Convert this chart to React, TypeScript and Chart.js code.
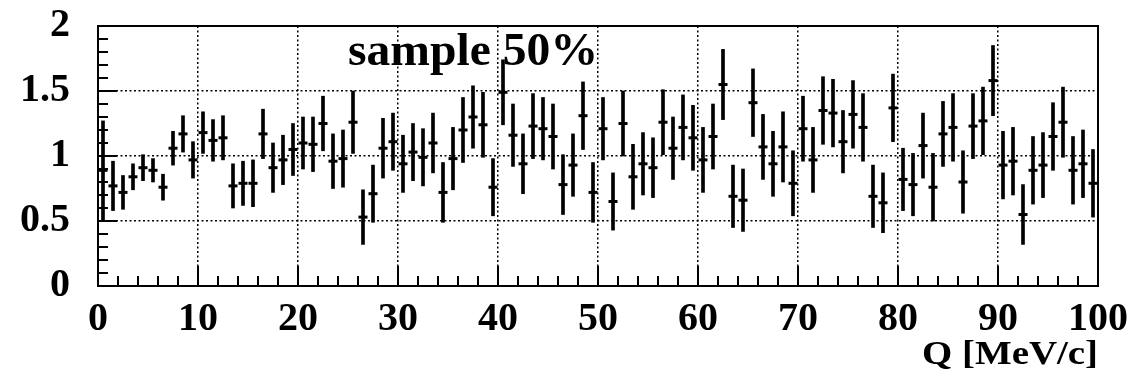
import React, { useEffect, useRef } from "react";
import { Chart, registerables } from "chart.js";

Chart.register(...registerables);

// Q bins: 100 bins of 1 MeV/c starting at 0
const qBinStart = 0;
const qBinWidth = 1;

// Ratio values per bin
const ratioValues = [
  0.89, 0.77, 0.72, 0.84, 0.91, 0.89, 0.76, 1.06, 1.17, 0.97,
  1.18, 1.12, 1.14, 0.77, 0.79, 0.79, 1.17, 0.91, 0.97, 1.05,
  1.10, 1.09, 1.25, 0.96, 0.98, 1.26, 0.53, 0.71, 1.06, 1.11,
  0.94, 1.03, 0.99, 1.10, 0.72, 0.98, 1.20, 1.30, 1.24, 0.76,
  1.49, 1.16, 0.94, 1.23, 1.21, 1.15, 0.78, 0.93, 1.31, 0.72,
  1.21, 0.65, 1.25, 0.84, 0.94, 0.91, 1.26, 1.06, 1.22, 1.14,
  0.97, 1.15, 1.55, 0.69, 0.66, 1.41, 1.07, 0.94, 1.07, 0.79,
  1.21, 0.97, 1.35, 1.33, 1.11, 1.32, 1.22, 0.69, 0.64, 1.37,
  0.82, 0.78, 1.08, 0.76, 1.17, 1.22, 0.80, 1.23, 1.27, 1.58,
  0.93, 0.96, 0.55, 0.89, 0.93, 1.15, 1.26, 0.89, 0.94, 0.79,
];

// Symmetric errors per bin
const ratioErrors = [
  0.38, 0.19, 0.13, 0.10, 0.10, 0.09, 0.10, 0.13, 0.14, 0.14,
  0.16, 0.16, 0.17, 0.17, 0.17, 0.18, 0.19, 0.19, 0.19, 0.20,
  0.20, 0.21, 0.21, 0.21, 0.22, 0.24, 0.21, 0.22, 0.23, 0.22,
  0.22, 0.22, 0.22, 0.23, 0.23, 0.24, 0.25, 0.24, 0.25, 0.22,
  0.25, 0.24, 0.23, 0.25, 0.24, 0.25, 0.23, 0.24, 0.26, 0.23,
  0.24, 0.22, 0.25, 0.25, 0.24, 0.23, 0.25, 0.24, 0.25, 0.25,
  0.25, 0.25, 0.27, 0.24, 0.24, 0.26, 0.25, 0.25, 0.27, 0.25,
  0.25, 0.25, 0.26, 0.26, 0.24, 0.26, 0.26, 0.24, 0.23, 0.26,
  0.24, 0.24, 0.25, 0.26, 0.25, 0.26, 0.24, 0.25, 0.26, 0.27,
  0.26, 0.26, 0.23, 0.26, 0.25, 0.26, 0.27, 0.26, 0.26, 0.26,
];

const xTickValues = [0, 10, 20, 30, 40, 50, 60, 70, 80, 90, 100];
const yTickLabels = ["0", "0.5", "1", "1.5", "2"];
const xAxisTitle = "Q [MeV/c]";
const annotationText = "sample 50%";

const X_MIN = 0, X_MAX = 100, X_MINOR = 2, X_MAJOR = 10;
const Y_MIN = 0, Y_MAX = 2, Y_MINOR = 0.1, Y_MAJOR = 0.5;

const W = 1137, H = 381;
const SERIF = '"Liberation Serif", "Times New Roman", serif';

const framePlugin = {
  id: "rootFrame",
  beforeDraw(chart: any) {
    const { ctx } = chart;
    ctx.save();
    ctx.fillStyle = "#fff";
    ctx.fillRect(0, 0, chart.width, chart.height);
    ctx.restore();
  },
  afterDraw(chart: any) {
    const { ctx, chartArea: a, scales } = chart;
    const xs = scales.x, ys = scales.y;
    ctx.save();
    ctx.strokeStyle = "#000";
    ctx.lineWidth = 2;
    ctx.setLineDash([]);
    ctx.strokeRect(a.left, a.top, a.right - a.left, a.bottom - a.top);
    // x tick marks (inside)
    ctx.beginPath();
    const nx = Math.round((X_MAX - X_MIN) / X_MINOR);
    for (let k = 0; k <= nx; k++) {
      const v = X_MIN + k * X_MINOR;
      const px = xs.getPixelForValue(v);
      const major = Math.abs(v / X_MAJOR - Math.round(v / X_MAJOR)) < 1e-6;
      const len = major ? 20 : 10;
      ctx.moveTo(px, a.bottom);
      ctx.lineTo(px, a.bottom - len);
    }
    const ny = Math.round((Y_MAX - Y_MIN) / Y_MINOR);
    for (let k = 0; k <= ny; k++) {
      const v = Y_MIN + k * Y_MINOR;
      const py = ys.getPixelForValue(v);
      const major = Math.abs(v / Y_MAJOR - Math.round(v / Y_MAJOR)) < 1e-6;
      const len = major ? 19 : 10;
      ctx.moveTo(a.left, py);
      ctx.lineTo(a.left + len, py);
    }
    ctx.stroke();

    // annotation text
    ctx.fillStyle = "#000";
    ctx.font = `bold 46px ${SERIF}`;
    ctx.textAlign = "left";
    ctx.textBaseline = "alphabetic";
    let w = ctx.measureText(annotationText).width;
    ctx.save();
    ctx.translate(348, 65);
    ctx.scale(250 / w, 1);
    ctx.fillText(annotationText, 0, 0);
    ctx.restore();

    // x axis title (right aligned)
    ctx.font = `bold 33px ${SERIF}`;
    ctx.textAlign = "right";
    w = ctx.measureText(xAxisTitle).width;
    ctx.save();
    ctx.translate(a.right, 364);
    ctx.scale(176 / w, 1);
    ctx.fillText(xAxisTitle, 0, 0);
    ctx.restore();
    ctx.restore();
  },
};

export default function App() {
  const ref = useRef<HTMLCanvasElement | null>(null);
  useEffect(() => {
    if (!ref.current) return;
    const centers = ratioValues.map((_, i) => qBinStart + (i + 0.5) * qBinWidth);
    const errData = ratioValues.map((v, i) => ({ x: centers[i], y: [v - ratioErrors[i], v + ratioErrors[i]] }));
    const ptData = ratioValues.map((v, i) => ({ x: centers[i], y: v }));
    const gridColor = (c: any, edges: number[]) =>
      edges.includes(c.tick?.value) ? "rgba(0,0,0,0)" : "#000";
    const chart = new Chart(ref.current, {
      type: "bar",
      data: {
        datasets: [
          {
            type: "bar",
            data: errData as any,
            backgroundColor: "#000",
            borderWidth: 0,
            barThickness: 3,
            grouped: false,
          } as any,
          {
            type: "scatter",
            data: ptData,
            pointStyle: "line",
            pointRadius: 4.5,
            borderColor: "#000",
            borderWidth: 3,
            backgroundColor: "#000",
          } as any,
        ],
      },
      plugins: [framePlugin],
      options: {
        animation: false,
        responsive: false,
        devicePixelRatio: 1,
        layout: { padding: { left: 0, right: 39, top: 26, bottom: 0 } },
        plugins: { legend: { display: false }, tooltip: { enabled: false } },
        scales: {
          x: {
            type: "linear",
            min: X_MIN,
            max: X_MAX,
            offset: false,
            afterFit: (s: any) => { s.height = 95; s.paddingLeft = 0; s.paddingRight = 0; },
            afterBuildTicks: (s: any) => { s.ticks = xTickValues.map((v) => ({ value: v })); },
            grid: {
              offset: false,
              drawTicks: false,
              color: (c: any) => gridColor(c, [X_MIN, X_MAX]),
              lineWidth: 1.5,
            },
            border: { display: false, dash: [2, 2.5] },
            ticks: {
              color: "#000",
              font: { family: SERIF, size: 40, weight: "bold" },
              padding: 10,
              maxRotation: 0,
              autoSkip: false,
            },
          },
          y: {
            type: "linear",
            min: Y_MIN,
            max: Y_MAX,
            afterFit: (s: any) => { s.width = 98; s.paddingTop = 0; s.paddingBottom = 0; },
            afterBuildTicks: (s: any) => {
              s.ticks = yTickLabels.map((l) => ({ value: parseFloat(l) }));
            },
            grid: {
              drawTicks: false,
              color: (c: any) => gridColor(c, [Y_MIN, Y_MAX]),
              lineWidth: 1.5,
            },
            border: { display: false, dash: [2, 2.5] },
            ticks: {
              color: "#000",
              font: { family: SERIF, size: 40, weight: "bold" },
              padding: 28,
              callback: (v: any) => yTickLabels.find((l) => parseFloat(l) === v) ?? String(v),
            },
          },
        },
      } as any,
    });
    return () => chart.destroy();
  }, []);
  return (
    <div style={{ position: "fixed", left: 0, top: 0, width: W, height: H, background: "#fff" }}>
      <canvas ref={ref} width={W} height={H} style={{ width: W, height: H, display: "block" }} />
    </div>
  );
}
